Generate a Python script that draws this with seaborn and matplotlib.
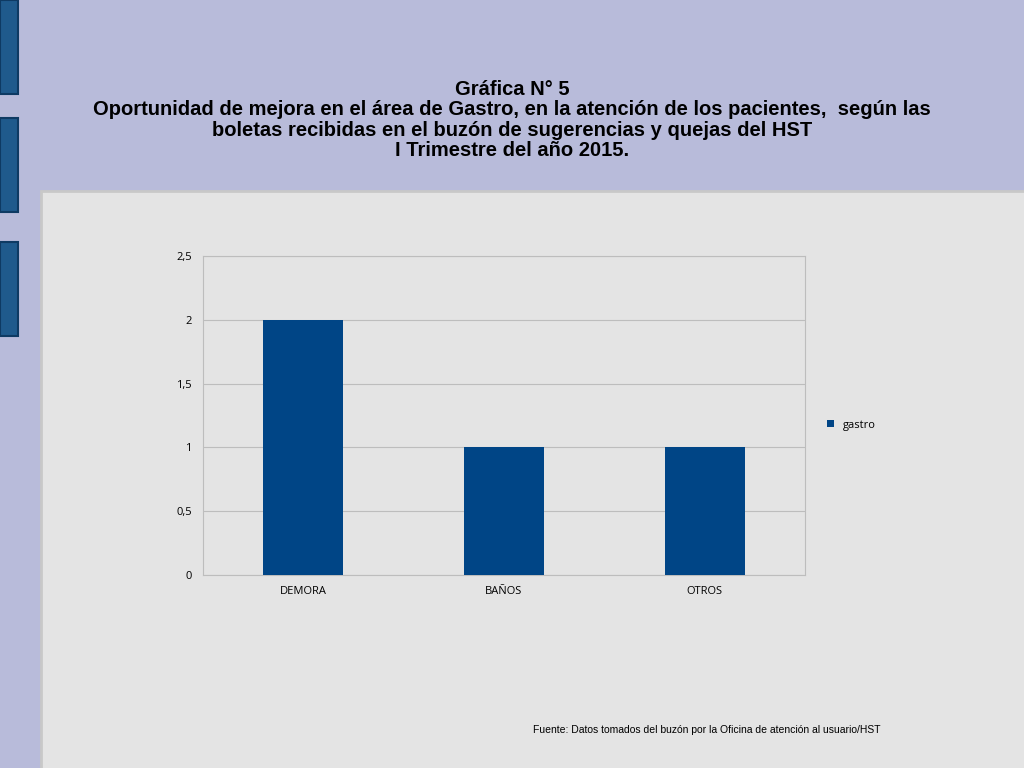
import matplotlib
matplotlib.use("Agg")
import matplotlib.pyplot as plt
import matplotlib.patches as mpatches
import pandas as pd
import seaborn as sns

categories = ["DEMORA", "BAÑOS", "OTROS"]
values = [2, 1, 1]
series_name = "gastro"
yticks = [0, 0.5, 1, 1.5, 2, 2.5]
ytick_labels = ["0", "0,5", "1", "1,5", "2", "2,5"]

title = ("Gráfica N° 5\n"
         "Oportunidad de mejora en el área de Gastro, en la atención de los pacientes,  según las\n"
         "boletas recibidas en el buzón de sugerencias y quejas del HST\n"
         "I Trimestre del año 2015.")
source = "Fuente: Datos tomados del buzón por la Oficina de atención al usuario/HST"

W, H = 1024, 768
fig = plt.figure(figsize=(W / 100, H / 100), dpi=100)
fig.patch.set_facecolor("#B8BBDA")

def box(x, y, w, h, **kw):
    fig.add_artist(mpatches.Rectangle((x / W, 1 - (y + h) / H), w / W, h / H,
                                      transform=fig.transFigure, zorder=-1, **kw))

# decorative blocks on the left
for y0 in (0, 118, 242):
    box(0, y0, 18, 94, facecolor="#1F5A8C", edgecolor="#0E3A63", linewidth=1.5)

# grey panel
box(41, 191, 990, 580, facecolor="#E4E4E4", edgecolor="#C8C8C8", linewidth=2)

fig.text(0.5, 1 - 120 / H, title, ha="center", va="center", fontsize=14.5,
         fontweight="bold", family="Liberation Sans", linespacing=1.1)

df = pd.DataFrame({"cat": categories, "val": values})
ax = fig.add_axes([203 / W, 1 - 575 / H, 602 / W, 319 / H])
ax.set_zorder(5)
ax.set_facecolor("#E4E4E4")
sns.barplot(data=df, x="cat", y="val", color="#004586", width=0.4,
            saturation=1, ax=ax, label=series_name, zorder=3)
ax.set_ylim(0, 2.5)
ax.set_yticks(yticks)
ax.set_yticklabels(ytick_labels)
ax.grid(axis="y", color="#BDBDBD", linewidth=0.8, zorder=0)
ax.set_axisbelow(True)
for s in ax.spines.values():
    s.set_color("#BDBDBD")
ax.tick_params(length=0, labelsize=8, pad=8)
for lab in ax.get_xticklabels() + ax.get_yticklabels():
    lab.set_family("Open Sans")
ax.set_xlabel("")
ax.set_ylabel("")
ax.legend(loc="center left", bbox_to_anchor=(1.02, 0.47), frameon=False,
          handlelength=0.6, handleheight=0.6, prop={"family": "Open Sans", "size": 8})

fig.text(533 / W, 1 - 730 / H, source, ha="left", va="center", fontsize=7.5,
         family="Liberation Sans")

fig.savefig("out.png", dpi=100, facecolor=fig.get_facecolor())
